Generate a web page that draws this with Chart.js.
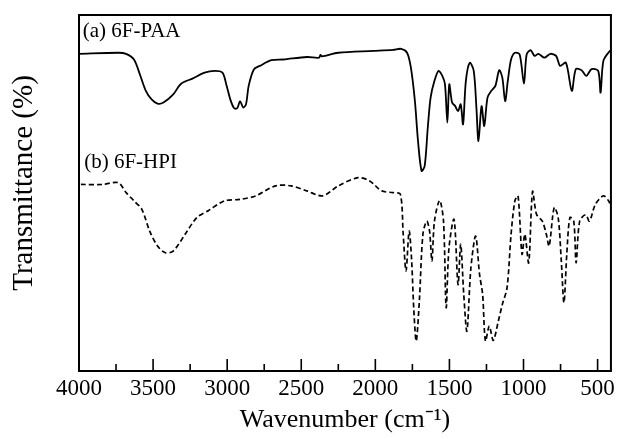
<!DOCTYPE html>
<html>
<head>
<meta charset="utf-8">
<script src="https://cdn.jsdelivr.net/npm/chart.js@4"></script>
<style>
html,body{margin:0;padding:0;background:#fff;}
#wrap{width:619px;height:439px;}
</style>
</head>
<body>
<div id="wrap"><canvas id="c" width="619" height="439"></canvas></div>
<script>
// Wavenumber (cm-1) and relative transmittance
const paaWn = [4000,3735,3682,3629,3589,3549,3510,3470,3430,3364,3311,3231,3152,3085,3032,3006,2979,2953,2932,2913,2892,2873,2855,2820,2780,2701,2621,2462,2380,2370,2360,2250,2012,1879,1826,1786,1760,1733,1712,1688,1667,1646,1627,1601,1574,1548,1530,1514,1501,1482,1461,1442,1424,1408,1389,1363,1336,1318,1304,1283,1265,1243,1217,1190,1164,1143,1124,1106,1084,1058,1026,997,979,952,925,899,859,819,780,753,714,674,647,608,576,541,496,480,461,422,410];
const paaT  = [89.1,89.4,89.1,87.5,83.3,78.7,76.3,75.1,75.4,77.7,80.7,82.2,83.8,84.3,83.8,80.5,76.3,73.8,73.8,75.8,74.0,74.9,80.1,84.7,85.7,87.3,87.5,88.2,88.0,88.8,88.4,89.4,89.9,90.2,90.5,89.4,85.2,75.8,64.6,56.2,57.6,68.4,76.8,81.5,84.3,82.9,80.5,69.8,80.5,75.4,74.4,73.0,74.9,69.3,81.5,86.6,84.3,74.0,64.6,74.4,68.8,76.8,78.7,80.1,84.5,82.4,75.8,81.5,87.5,89.4,88.9,80.7,88.9,90.1,88.5,89.1,88.0,89.1,88.5,85.7,86.6,78.7,84.8,84.5,82.9,84.8,84.3,78.2,87.1,89.7,90.0];
const hpiWn = [3987,3841,3735,3682,3629,3576,3523,3470,3417,3364,3284,3205,3125,3019,2913,2807,2674,2568,2462,2356,2250,2118,2038,1958,1879,1831,1812,1793,1772,1756,1740,1724,1703,1679,1653,1634,1618,1601,1566,1540,1522,1503,1469,1442,1424,1403,1382,1355,1323,1297,1276,1257,1231,1204,1170,1143,1111,1084,1058,1037,1010,991,965,939,912,873,846,827,793,766,745,727,708,687,661,645,621,581,555,515,461,426,410];
const hpiT  = [52.4,52.4,52.9,50.1,47.8,45.4,39.3,35.1,33.2,33.7,38.4,43.1,45.1,47.8,48.2,49.2,52.0,52.0,50.6,49.2,52.0,54.3,53.4,50.6,50.1,49.6,38.4,28.1,39.3,31.8,16.9,8.4,19.7,38.4,42.1,39.3,30.9,42.1,47.9,42.1,17.8,34.6,42.6,24.3,35.6,21.3,11.2,29.0,37.9,27.2,21.5,8.4,12.6,8.6,14.0,18.7,23.4,38.4,47.8,49.2,32.8,38.4,30.4,50.4,44.0,42.1,38.4,35.1,45.9,43.1,30.9,19.2,32.8,43.1,42.1,30.4,42.1,43.9,42.1,46.8,49.2,47.8,46.0];
const xTickValues = [4000,3500,3000,2500,2000,1500,1000,500];
const minorTickValues = [3750,3250,2750,2250,1750,1250,750];
const labelA = '(a) 6F-PAA';
const labelB = '(b) 6F-HPI';
const yTitle = 'Transmittance (%)';

const serif = "'Liberation Serif','Times New Roman',serif";

const toPts = (xs, ys) => xs.map((x, i) => ({x: x, y: ys[i]}));

const framePlugin = {
  id: 'frame',
  afterDatasetsDraw(chart) {
    const {ctx, chartArea: a, scales: {x, y}} = chart;
    ctx.save();
    ctx.strokeStyle = '#000';
    ctx.lineWidth = 2;
    ctx.strokeRect(a.left, a.top, a.right - a.left, a.bottom - a.top);
    ctx.lineWidth = 1.6;
    ctx.beginPath();
    xTickValues.forEach(v => {
      const px = x.getPixelForValue(v);
      ctx.moveTo(px, a.bottom); ctx.lineTo(px, a.bottom - 12);
    });
    minorTickValues.forEach(v => {
      const px = x.getPixelForValue(v);
      ctx.moveTo(px, a.bottom); ctx.lineTo(px, a.bottom - 7);
    });
    ctx.stroke();
    ctx.fillStyle = '#000';
    ctx.font = '21px ' + serif;
    ctx.textBaseline = 'alphabetic';
    ctx.textAlign = 'left';
    ctx.fillText(labelA, x.getPixelForValue(3975), y.getPixelForValue(89.0) - 17);
    ctx.fillText(labelB, x.getPixelForValue(3965), y.getPixelForValue(52.0) - 18);
    // y-axis title
    ctx.translate(32, (a.top + a.bottom) / 2 - 10);
    ctx.rotate(-Math.PI / 2);
    ctx.textAlign = 'center';
    ctx.font = '29px ' + serif;
    ctx.fillText(yTitle, 0, 0);
    ctx.restore();
  }
};

new Chart(document.getElementById('c'), {
  type: 'line',
  data: {
    datasets: [
      {label: labelA, data: toPts(paaWn, paaT), borderColor: '#000', borderWidth: 1.8, pointRadius: 0, tension: 0.3, fill: false},
      {label: labelB, data: toPts(hpiWn, hpiT), borderColor: '#000', borderWidth: 1.7, borderDash: [5, 3], pointRadius: 0, tension: 0.3, fill: false}
    ]
  },
  plugins: [framePlugin],
  options: {
    responsive: false,
    animation: false,
    layout: {padding: {top: 15, right: 6, left: 0, bottom: 0}},
    plugins: {legend: {display: false}, tooltip: {enabled: false}},
    scales: {
      x: {
        type: 'linear', min: 410, max: 4000, reverse: true,
        afterFit: s => { s.height = 68; },
        grid: {display: false, drawTicks: false},
        border: {display: false},
        afterBuildTicks: s => { s.ticks = xTickValues.map(v => ({value: v})); },
        ticks: {color: '#000', font: {family: serif, size: 23}, padding: 4, maxRotation: 0, autoSkip: false,
                callback: v => String(v)},
        title: {display: true, text: 'Wavenumber (cm⁻¹)', color: '#000', font: {family: serif, size: 26}, padding: {top: 0, bottom: 3}}
      },
      y: {
        min: 0, max: 100,
        afterFit: s => { s.width = 79; },
        grid: {display: false, drawTicks: false},
        border: {display: false},
        ticks: {display: false},
        title: {display: false}
      }
    }
  }
});
</script>
</body>
</html>
